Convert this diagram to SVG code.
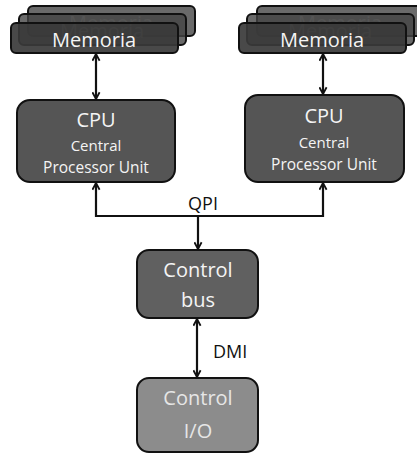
<svg xmlns="http://www.w3.org/2000/svg" width="417" height="454" viewBox="0 0 417 454">
<style>
.box{stroke:#111;stroke-width:2}
.mem{fill:#3a3a3a;fill-opacity:0.85;stroke:#111;stroke-width:2}
.t{font-family:"Open Sans","DejaVu Sans",sans-serif;fill:#f4f4f4;text-anchor:middle}
.fade{fill:#a8a8a8;fill-opacity:0.7}
.lbl{font-family:"Open Sans","DejaVu Sans",sans-serif;fill:#111;font-size:18px}
.ln{stroke:#111;stroke-width:2.2;fill:none}
</style>
<defs>
<marker id="ah" viewBox="0 0 10 10" refX="9" refY="5" markerWidth="9" markerHeight="9" orient="auto-start-reverse" markerUnits="userSpaceOnUse">
<path d="M1.5,1 L9,5 L1.5,9" fill="none" stroke="#111" stroke-width="2"/>
</marker>
</defs>
<rect width="417" height="454" fill="#fff"/>
<g id="mem-left">
<rect class="mem" x="28" y="6" width="167" height="30" rx="5" style="fill:#505050"/>
<text class="t fade" x="111" y="30" font-size="20">Memoria</text>
<rect class="mem" x="19" y="14" width="167" height="31" rx="5" style="fill:#454545;fill-opacity:0.8"/>
<text class="t fade" x="102" y="38" font-size="20">Memoria</text>
<rect class="mem" x="11" y="23" width="167" height="30" rx="5" style="fill-opacity:0.92"/>
<text class="t" x="94" y="47" font-size="20">Memoria</text>
</g>
<g id="mem-right">
<rect class="mem" x="257" y="6" width="167" height="30" rx="5" style="fill:#505050"/>
<text class="t fade" x="340" y="30" font-size="20">Memoria</text>
<rect class="mem" x="247" y="14" width="167" height="31" rx="5" style="fill:#454545;fill-opacity:0.8"/>
<text class="t fade" x="330" y="38" font-size="20">Memoria</text>
<rect class="mem" x="239" y="23" width="167" height="30" rx="5" style="fill-opacity:0.92"/>
<text class="t" x="322" y="47" font-size="20">Memoria</text>
</g>
<g id="cpu-left">
<rect class="box" x="17" y="100" width="158" height="82" rx="13" fill="#555"/>
<text class="t" x="96" y="127" font-size="20">CPU</text>
<text class="t" x="96" y="151" font-size="15">Central</text>
<text class="t" x="96" y="173" font-size="15.5">Processor Unit</text>
</g>
<g id="cpu-right">
<rect class="box" x="245" y="95" width="159" height="87" rx="13" fill="#555"/>
<text class="t" x="324" y="123" font-size="20">CPU</text>
<text class="t" x="324" y="148" font-size="15">Central</text>
<text class="t" x="324" y="170" font-size="15.5">Processor Unit</text>
</g>
<g id="control-bus">
<rect class="box" x="137" y="250" width="121" height="68" rx="12" fill="#606060"/>
<text class="t" x="198" y="277" font-size="20">Control</text>
<text class="t" x="198" y="307" font-size="20">bus</text>
</g>
<g id="control-io">
<rect class="box" x="137" y="378" width="121" height="74" rx="12" fill="#8c8c8c"/>
<text class="t" x="198" y="405" font-size="20" style="fill:#e6e6e6">Control</text>
<text class="t" x="198" y="438" font-size="20" style="fill:#e6e6e6">I/O</text>
</g>
<g id="connectors">
<line class="ln" x1="96" y1="54" x2="96" y2="99" marker-start="url(#ah)" marker-end="url(#ah)"/>
<line class="ln" x1="323" y1="54" x2="323" y2="94" marker-start="url(#ah)" marker-end="url(#ah)"/>
<polyline class="ln" points="96,183 96,216 323,216 323,183" marker-start="url(#ah)" marker-end="url(#ah)"/>
<line class="ln" x1="198" y1="216" x2="198" y2="249" marker-end="url(#ah)"/>
<text class="lbl" x="203" y="210" text-anchor="middle">QPI</text>
<line class="ln" x1="197" y1="319" x2="197" y2="377" marker-start="url(#ah)" marker-end="url(#ah)"/>
<text class="lbl" x="213" y="358">DMI</text>
</g>
</svg>
